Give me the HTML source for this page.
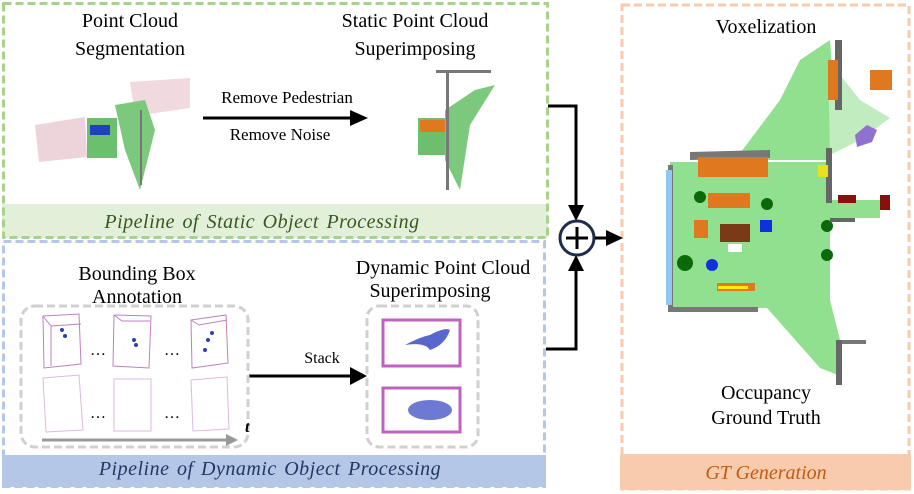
<!DOCTYPE html>
<html><head><meta charset="utf-8"><style>
html,body{margin:0;padding:0;background:#fff}
svg{display:block}
text{font-family:"Liberation Serif",serif;fill:#000}
</style></head><body>
<svg width="914" height="494" viewBox="0 0 914 494">
<rect x="2" y="204" width="546" height="34" fill="#e2f0d9"/>
<rect x="3.5" y="3.5" width="544" height="234" fill="none" stroke="#a9d18e" stroke-width="3" stroke-dasharray="8,4"/>
<rect x="2" y="455" width="544" height="32" fill="#b4c7e7"/>
<rect x="3.5" y="241.5" width="541" height="245" fill="none" stroke="#b4c7e7" stroke-width="3" stroke-dasharray="8,4"/>
<rect x="620" y="454" width="291" height="36" fill="#f8cbad"/>
<rect x="622" y="5" width="287" height="484" fill="none" stroke="#f8cbad" stroke-width="3" stroke-dasharray="8,4"/>

<g font-size="20" text-anchor="middle">
<text x="130" y="27">Point Cloud</text>
<text x="130" y="55">Segmentation</text>
<text x="415" y="27">Static Point Cloud</text>
<text x="415" y="55">Superimposing</text>
<text x="137" y="280">Bounding Box</text>
<text x="137" y="303">Annotation</text>
<text x="443" y="274">Dynamic Point Cloud</text>
<text x="430" y="297">Superimposing</text>
<text x="766" y="33">Voxelization</text>
<text x="766" y="399">Occupancy</text>
<text x="766" y="424">Ground Truth</text>
</g>
<g font-size="17" text-anchor="middle">
<text x="287" y="103">Remove Pedestrian</text>
<text x="280" y="140">Remove Noise</text>
<text x="322" y="363" font-size="16">Stack</text>
</g>
<g font-size="20" font-style="italic" text-anchor="middle">
<text x="262" y="228" style="fill:#385723" letter-spacing="0.5" word-spacing="2">Pipeline of Static Object Processing</text>
<text x="270" y="475" style="fill:#1f3864" letter-spacing="0.5" word-spacing="2">Pipeline of Dynamic Object Processing</text>
<text x="766" y="479" style="fill:#c55a11">GT Generation</text>
</g>

<line x1="203" y1="118" x2="352" y2="118" stroke="#000" stroke-width="3"/>
<polygon points="350,110 368,118 350,126" fill="#000"/>
<line x1="249" y1="376" x2="352" y2="376" stroke="#000" stroke-width="3"/>
<polygon points="350,367 367,376 350,385" fill="#000"/>
<polyline points="548,106 576,106 576,212" fill="none" stroke="#000" stroke-width="3"/>
<polygon points="568,205 584,205 576,221" fill="#000"/>
<polyline points="546,349 576,349 576,264" fill="none" stroke="#000" stroke-width="3"/>
<polygon points="568,271 584,271 576,255" fill="#000"/>
<circle cx="577" cy="238" r="17" fill="#fff" stroke="#1f2d4d" stroke-width="3"/>
<line x1="566" y1="238" x2="588" y2="238" stroke="#000" stroke-width="3"/>
<line x1="577" y1="227" x2="577" y2="249" stroke="#000" stroke-width="3"/>
<line x1="595" y1="238" x2="610" y2="238" stroke="#000" stroke-width="3"/>
<polygon points="606,230 623,238 606,246" fill="#000"/>

<rect x="21" y="306" width="227" height="141" rx="14" fill="none" stroke="#d0d0d0" stroke-width="3" stroke-dasharray="8,4"/>
<rect x="367" y="306" width="111" height="141" rx="12" fill="none" stroke="#d0d0d0" stroke-width="3" stroke-dasharray="8,4"/>
<rect x="383" y="320" width="77" height="46" fill="none" stroke="#c060c0" stroke-width="3"/>
<rect x="383" y="388" width="77" height="44" fill="none" stroke="#c060c0" stroke-width="3"/>
<path d="M405 345 q15 -8 25 -10 q15 -8 20 -5 q-5 15 -20 20 q-5 -8 -25 -5z" fill="#3040c0" opacity="0.8"/>
<ellipse cx="430" cy="410" rx="22" ry="10" fill="#3040c0" opacity="0.7"/>
<g fill="none" stroke="#c080c0" stroke-width="1">
<path d="M43 316 l36 -2 l2 50 l-37 4z M43 316 l8 10 l30 -2 M51 326 l0 40"/>
<path d="M114 315 l37 1 l-2 52 l-36 -2z M114 315 l8 6 l28 0"/>
<path d="M191 320 l35 -5 l2 48 l-36 5z M191 320 l8 5 l28 -5"/>
<g stroke="#e0b8e0"><path d="M43 378 l36 -3 l4 55 l-37 2z"/>
<path d="M114 379 l37 0 l0 52 l-37 0z"/>
<path d="M191 380 l36 -3 l2 52 l-36 2z"/></g>
</g>
<g fill="#3040b0"><circle cx="62" cy="330" r="2"/><circle cx="65" cy="336" r="2"/><circle cx="134" cy="340" r="2"/><circle cx="136" cy="345" r="2"/><circle cx="208" cy="340" r="2"/><circle cx="212" cy="333" r="2"/><circle cx="205" cy="350" r="2"/></g>
<g font-size="16" text-anchor="middle"><text x="98" y="355">…</text><text x="172" y="355">…</text><text x="98" y="418">…</text><text x="172" y="418">…</text></g>
<line x1="42" y1="440" x2="228" y2="440" stroke="#999" stroke-width="3"/>
<polygon points="226,434 238,440 226,446" fill="#999"/>
<text x="245" y="432" font-size="16" font-style="italic" font-weight="bold">t</text>

<path d="M35 125 l50 -8 l2 40 l-48 5z" fill="#ecd4da"/>
<path d="M130 82 l60 -4 l0 30 l-55 8z" fill="#f0dae0"/>
<path d="M87 118 l30 0 l0 40 l-30 0z" fill="#6cbf6c"/>
<path d="M115 105 l30 -5 l10 30 l-15 60 l-15 -40z" fill="#7cc87c"/>
<rect x="90" y="125" width="20" height="10" fill="#2040c0"/>
<rect x="140" y="110" width="2" height="75" fill="#777"/>
<path d="M418 118 l30 0 l0 37 l-30 0z" fill="#6cbf6c"/>
<path d="M445 110 l30 -20 l20 -5 l-25 40 l-10 65 l-15 -30z" fill="#7cc87c"/>
<rect x="420" y="120" width="25" height="12" fill="#e07820"/>
<rect x="446" y="70" width="3" height="120" fill="#777"/>
<rect x="436" y="70" width="55" height="3" fill="#777"/>

<!-- voxel map -->
<g>
<rect x="670" y="162" width="160" height="146" fill="#90e090"/>
<polygon points="735,160 780,100 800,60 830,40 835,110 830,160" fill="#90e090"/>
<polygon points="828,60 860,100 890,118 860,140 830,155" fill="#c0ecc0"/>
<polygon points="760,300 830,300 840,340 838,375 820,368" fill="#90e090"/>
<rect x="825" y="200" width="55" height="18" fill="#90e090"/>
<rect x="668" y="165" width="5" height="145" fill="#777"/>
<rect x="668" y="307" width="90" height="5" fill="#777"/>
<path d="M690 152 l80 -2 l0 8 l-80 2z" fill="#777"/>
<rect x="698" y="157" width="70" height="20" fill="#e07820"/>
<rect x="708" y="193" width="42" height="15" fill="#e07820"/>
<rect x="694" y="220" width="14" height="18" fill="#e07820"/>
<rect x="720" y="224" width="30" height="18" fill="#7a3a18"/>
<rect x="728" y="244" width="14" height="8" fill="#fff"/>
<rect x="717" y="283" width="38" height="8" fill="#e07820"/>
<rect x="718" y="286" width="30" height="3" fill="#ffee00"/>
<circle cx="700" cy="197" r="6" fill="#0a6a0a"/><circle cx="685" cy="263" r="8" fill="#0a6a0a"/><circle cx="767" cy="204" r="6" fill="#0a6a0a"/><circle cx="827" cy="226" r="6" fill="#0a6a0a"/><circle cx="827" cy="255" r="6" fill="#0a6a0a"/>
<circle cx="712" cy="265" r="6" fill="#1030e0"/><rect x="760" y="220" width="12" height="12" fill="#1030e0"/>
<rect x="666" y="170" width="6" height="135" fill="#90c8f0"/>
<rect x="835" y="40" width="7" height="70" fill="#666"/>
<rect x="828" y="60" width="10" height="40" fill="#e07820"/>
<rect x="870" y="70" width="22" height="20" fill="#e07820"/>
<path d="M855 135 l12 -10 l10 5 l-5 12 l-15 5z" fill="#9070d0"/>
<rect x="826" y="148" width="6" height="55" fill="#666"/>
<rect x="818" y="165" width="10" height="12" fill="#e8e020"/>
<rect x="838" y="195" width="18" height="8" fill="#8a1010"/>
<rect x="880" y="195" width="10" height="15" fill="#8a1010"/>
<rect x="830" y="218" width="25" height="4" fill="#666"/>
<rect x="836" y="340" width="30" height="4" fill="#777"/><rect x="836" y="340" width="6" height="45" fill="#666"/>
</g>
</svg>
</body></html>
